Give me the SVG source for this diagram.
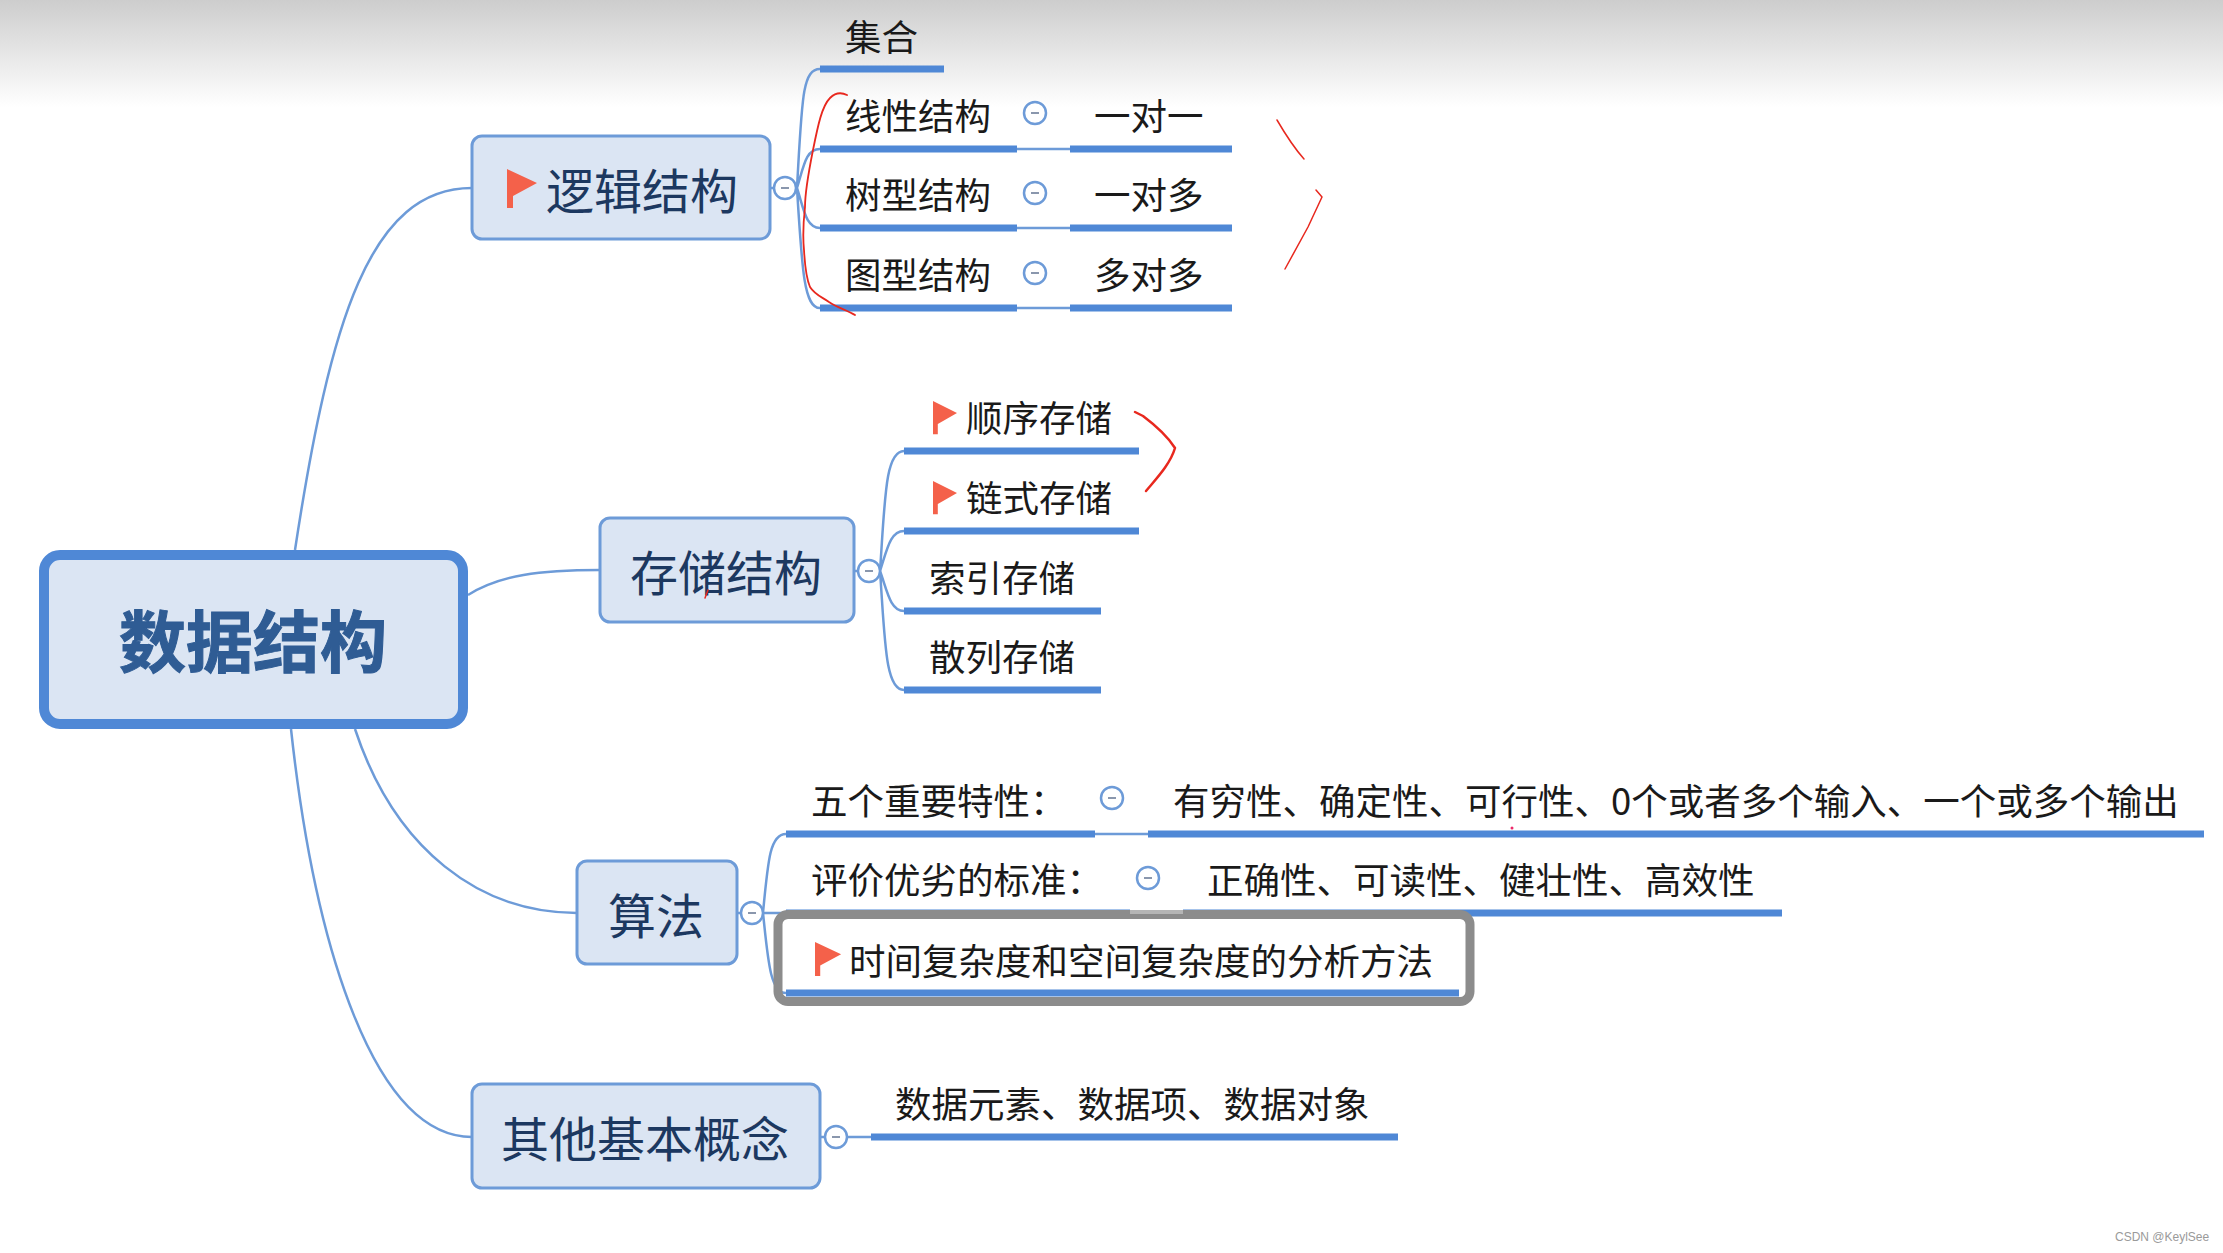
<svg xmlns="http://www.w3.org/2000/svg" width="2223" height="1253" viewBox="0 0 2223 1253">
<defs>
<linearGradient id="top" x1="0" y1="0" x2="0" y2="1"><stop offset="0" stop-color="#cdcdcd"/><stop offset="0.5" stop-color="#e6e6e6"/><stop offset="1" stop-color="#ffffff"/></linearGradient>
<path id="flag" d="M0 0L30 14L6 27V39H0Z" fill="#f4614a"/>
<g id="fold"><circle r="11" fill="#fff" stroke="#6d9bd8" stroke-width="2.5"/><line x1="-4" x2="4" stroke="#8a97ad" stroke-width="2"/></g>
</defs>
<style>
text{font-family:"Noto Sans CJK SC","Liberation Sans",sans-serif}
.main{font-size:67px;font-weight:700;fill:#2f5c94;stroke:#2f5c94;stroke-width:1}
.t1{font-size:48px;fill:#1c3860}
.t2{font-size:36.5px;fill:#1a1a1a}
.box{fill:#dbe5f3;stroke:#6d9bd8;stroke-width:3}
.ul{stroke:#4f88d6;stroke-width:7}
.c{fill:none;stroke:#6d9bd8;stroke-width:2.5}
.r{fill:none;stroke:#e8281e;stroke-width:2.5;stroke-linecap:round;stroke-linejoin:round}
.rm{fill:none;stroke:#e8281e;stroke-width:1.8;stroke-linecap:round;stroke-linejoin:round}
.rt{fill:none;stroke:#e8281e;stroke-width:1.5;stroke-linecap:round;stroke-linejoin:round}
</style>
<rect width="2223" height="1253" fill="#fff"/>
<rect width="2223" height="107" fill="url(#top)"/>
<g id="connectors">
<path class="c" d="M295 550C330 320 370 188 472 188"/>
<path class="c" d="M468 595C500 575 540 570 600 570"/>
<path class="c" d="M355 729C395 850 480 913 577 913"/>
<path class="c" d="M291 729C315 950 375 1137 472 1137"/>
<path class="c" d="M770 188H773M797 188C802 100 802 69 820 69M797 188C804 165 806 149 820 149M797 188C804 210 806 228 820 228M797 188C802 270 804 308 820 308"/>
<path class="c" d="M855 571H858M880 571C885 500 885 451 904 451M880 571C887 550 890 531 904 531M880 571C887 590 890 611 904 611M880 571C885 640 885 690 904 690"/>
<path class="c" d="M737 913H741M763 913C768 860 770 834 786 834M763 913H786M763 913C768 960 770 993 786 993"/>
<path class="c" d="M820 1137H871"/>
<path class="c" d="M1017 149H1070M1017 228H1070M1017 308H1070M1095 834H1148M1130 913H1183"/>
</g>
<g id="n-root"><rect x="44" y="555" width="419" height="169" rx="16" fill="#dbe5f3" stroke="#4f88d6" stroke-width="10"/><text class="main" x="253" y="667" text-anchor="middle">数据结构</text></g>
<g id="n-logic"><rect class="box" x="472" y="136" width="298" height="103" rx="10"/><use href="#flag" x="507" y="169"/><text class="t1" x="546" y="209">逻辑结构</text><use href="#fold" x="785" y="188"/></g>
<g id="n-set"><text class="t2" x="845" y="51">集合</text><line class="ul" x1="820" x2="944" y1="69" y2="69"/></g>
<g id="n-linear"><text class="t2" x="845" y="130">线性结构</text><line class="ul" x1="820" x2="1017" y1="149" y2="149"/><use href="#fold" x="1035" y="113"/><text class="t2" x="1094" y="130">一对一</text><line class="ul" x1="1070" x2="1232" y1="149" y2="149"/></g>
<g id="n-tree"><text class="t2" x="845" y="209">树型结构</text><line class="ul" x1="820" x2="1017" y1="228" y2="228"/><use href="#fold" x="1035" y="193"/><text class="t2" x="1094" y="209">一对多</text><line class="ul" x1="1070" x2="1232" y1="228" y2="228"/></g>
<g id="n-graph"><text class="t2" x="845" y="289">图型结构</text><line class="ul" x1="820" x2="1017" y1="308" y2="308"/><use href="#fold" x="1035" y="273"/><text class="t2" x="1094" y="289">多对多</text><line class="ul" x1="1070" x2="1232" y1="308" y2="308"/></g>
<g id="n-storage"><rect class="box" x="600" y="518" width="254" height="104" rx="10"/><text class="t1" x="630" y="591">存储结构</text><use href="#fold" x="869" y="571"/></g>
<g id="n-seq"><use href="#flag" transform="translate(933 401) scale(.8 .85)"/><text class="t2" x="966" y="432">顺序存储</text><line class="ul" x1="904" x2="1139" y1="451" y2="451"/></g>
<g id="n-link"><use href="#flag" transform="translate(933 481) scale(.8 .85)"/><text class="t2" x="966" y="512">链式存储</text><line class="ul" x1="904" x2="1139" y1="531" y2="531"/></g>
<g id="n-index"><text class="t2" x="929" y="592">索引存储</text><line class="ul" x1="904" x2="1101" y1="611" y2="611"/></g>
<g id="n-hash"><text class="t2" x="929" y="671">散列存储</text><line class="ul" x1="904" x2="1101" y1="690" y2="690"/></g>
<g id="n-algo"><rect class="box" x="577" y="861" width="160" height="103" rx="10"/><text class="t1" x="608" y="934">算法</text><use href="#fold" x="752" y="913"/></g>
<g id="n-five"><text class="t2" x="811" y="815">五个重要特性：</text><line class="ul" x1="786" x2="1095" y1="834" y2="834"/><use href="#fold" x="1112" y="798"/><text class="t2" x="1173" y="815">有穷性、确定性、可行性、0个或者多个输入、一个或多个输出</text><line class="ul" x1="1148" x2="2204" y1="834" y2="834"/></g>
<g id="n-eval"><text class="t2" x="811" y="894">评价优劣的标准：</text><line class="ul" x1="786" x2="1130" y1="913" y2="913"/><use href="#fold" x="1148" y="878"/><text class="t2" x="1207" y="894">正确性、可读性、健壮性、高效性</text><line class="ul" x1="1183" x2="1782" y1="913" y2="913"/></g>
<g id="n-time"><rect x="778" y="914.5" width="692" height="87" rx="10" fill="none" stroke="#8c8c8c" stroke-width="9"/><line x1="1130" x2="1183" y1="912" y2="912" stroke="#b5b5b5" stroke-width="4"/><use href="#flag" transform="translate(815 942) scale(.87)"/><text class="t2" x="849" y="975">时间复杂度和空间复杂度的分析方法</text><line class="ul" x1="786" x2="1459" y1="993" y2="993"/></g>
<g id="n-other"><rect class="box" x="472" y="1084" width="348" height="104" rx="10"/><text class="t1" x="501" y="1157">其他基本概念</text><use href="#fold" x="836" y="1137"/></g>
<g id="n-elems"><text class="t2" x="895" y="1118">数据元素、数据项、数据对象</text><line class="ul" x1="871" x2="1398" y1="1137" y2="1137"/></g>
<g id="annotations">
<path class="rm" d="M847 95C841 92 835 93 830 98C822 106 818 125 813 150C808 175 805 195 805 207C803 225 803 240 804 250C805 268 807 280 810 287C815 295 822 297 829 302C838 308 847 310 855 315"/>
<path class="rt" d="M1277 120C1284 132 1296 150 1304 159"/>
<path class="rt" d="M1316 190L1322 197L1308 227L1285 269"/>
<path class="r" d="M1135 412L1143 416C1155 425 1168 437 1175 448C1170 465 1155 480 1146 491"/>
<path class="rt" d="M708 590L705 598"/>
<circle cx="1512" cy="828" r="1.5" fill="#ec2a6a"/>
</g>
<text x="2115" y="1241" font-size="12" fill="#9a9a9a" style="font-family:'Liberation Sans',sans-serif">CSDN @KeylSee</text>
</svg>
